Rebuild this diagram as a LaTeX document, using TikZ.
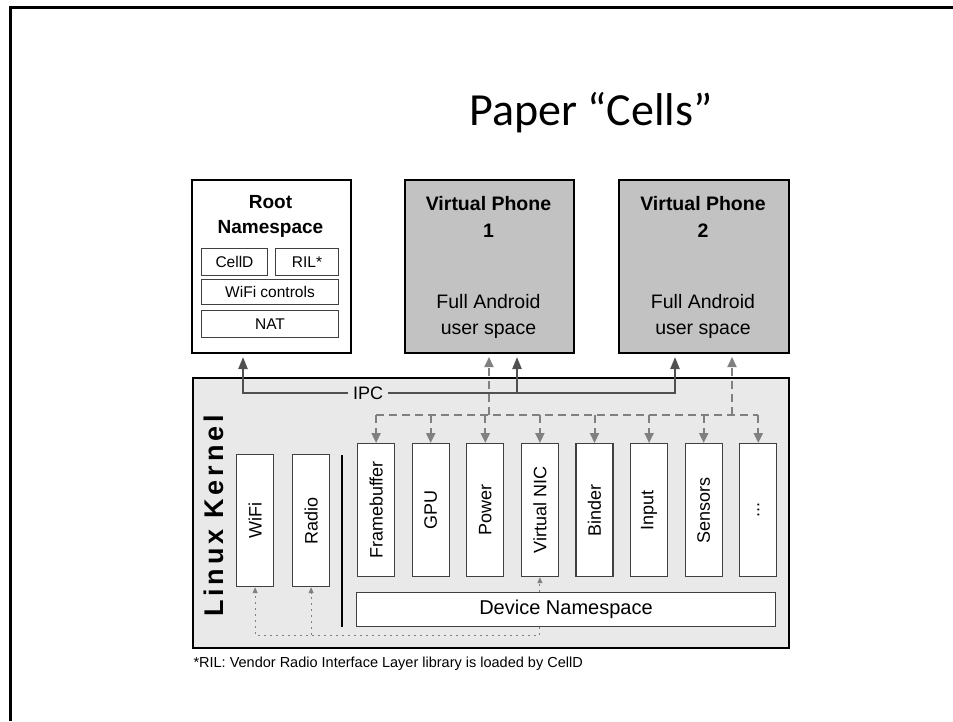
\documentclass[tikz,border=0pt]{standalone}
\usepackage{fontspec}
\setmainfont{Liberation Sans}
\newfontfamily\titlefont{Carlito}
\newfontfamily\kernelfont[LetterSpace=14]{Liberation Sans Bold}
\usetikzlibrary{arrows.meta}
\usetikzlibrary{calc}

\definecolor{phonegray}{HTML}{C2C2C2}
\definecolor{kernelgray}{HTML}{E9E9E9}
\definecolor{ipcgray}{HTML}{505050}
\definecolor{busgray}{HTML}{808080}

\tikzset{
  bigbox/.style={draw, line width=2pt, anchor=north west, inner sep=0pt},
  smallbox/.style={draw=black!75, line width=1pt, fill=white, anchor=north west, inner sep=0pt},
  boxtext/.style={font=\fontsize{15.5}{18}\selectfont},
  devbox/.style={draw=black!75, line width=1.2pt, fill=white, anchor=north west, inner sep=0pt, minimum width=37, minimum height=133},
  devtext/.style={rotate=90, font=\fontsize{18}{20}\selectfont},
  ipcline/.style={draw=ipcgray, line width=2.2pt},
  ipcarrow/.style={ipcline, -{Triangle[width=9pt,length=12pt]}, shorten >=3pt},
  busline/.style={draw=busgray, line width=2pt, dash pattern=on 8pt off 5pt},
  busarrow/.style={busline, -{Triangle[width=9pt,length=10pt]}},
  dotline/.style={draw=busgray, line width=0.9pt, dash pattern=on 2pt off 4pt},
  dotarrow/.style={dotline, -{Triangle[width=5pt,length=6pt]}}
}

\begin{document}
\begin{tikzpicture}[x=1pt, y=-1pt]
    \useasboundingbox (0,0) rectangle (953,721);
    \draw[line width=3pt] (953,7.5) -- (10,7.5) -- (10,721);

    \node[font=\titlefont\fontsize{46}{50}\selectfont, anchor=base] (title) at (591,125) {Paper “Cells”};

    % user space
    \node[bigbox, fill=white, minimum width=159, minimum height=173] (root) at (191,179) {};
    \node[bigbox, fill=phonegray, minimum width=169, minimum height=173] (vp1) at (404,179) {};
    \node[bigbox, fill=phonegray, minimum width=170, minimum height=173] (vp2) at (618,179) {};

    \node[align=center, font=\bfseries\fontsize{19}{25}\selectfont] (rootname) at (270.5,216) {Root\\Namespace};
    \node[align=center, font=\bfseries\fontsize{19.5}{27}\selectfont] (vp1name) at (488.5,217) {Virtual Phone\\1};
    \node[align=center, font=\bfseries\fontsize{19.5}{27}\selectfont] (vp2name) at (703,217) {Virtual Phone\\2};
    \node[align=center, font=\fontsize{19.5}{26}\selectfont] (vp1user) at (488.5,316) {Full Android\\user space};
    \node[align=center, font=\fontsize{19.5}{26}\selectfont] (vp2user) at (703,316) {Full Android\\user space};

    \node[smallbox, minimum width=66, minimum height=27] (cellid) at (201,248) {};
    \node[smallbox, minimum width=63, minimum height=27] (ril) at (275,248) {};
    \node[smallbox, minimum width=137, minimum height=25] (wifictl) at (201,279) {};
    \node[smallbox, minimum width=137, minimum height=27] (nat) at (201,310) {};
    \node[boxtext] (cellidtext) at (cellid.center) {CellD};
    \node[boxtext] (riltext) at (ril.center) {RIL*};
    \node[boxtext] (wifictltext) at (wifictl.center) {WiFi controls};
    \node[boxtext] (nattext) at (nat.center) {NAT};

    % kernel
    \node[bigbox, fill=kernelgray, minimum width=596, minimum height=270] (kernel) at (192,377) {};
    \node[rotate=90, font=\kernelfont\fontsize{27}{30}\selectfont] (kname) at (214,516) {Linux Kernel};

    \node[devbox, minimum height=132, label={[devtext]center:WiFi}] (wifi) at (236,454) {};
    \node[devbox, minimum height=132, label={[devtext]center:Radio}] (radio) at (292,454) {};
    \draw[line width=2pt] (342,455) -- (342,627);

    \node[devbox, label={[devtext]center:Framebuffer}] (fb) at (357,443) {};
    \node[devbox, label={[devtext]center:GPU}] (gpu) at (411.6,443) {};
    \node[devbox, label={[devtext]center:Power}] (power) at (466.2,443) {};
    \node[devbox, label={[devtext]center:Virtual NIC}] (vnic) at (520.8,443) {};
    \node[devbox, label={[devtext]center:Binder}] (binder) at (575.4,443) {};
    \node[devbox, label={[devtext]center:Input}] (input) at (630,443) {};
    \node[devbox, label={[devtext]center:Sensors}] (sensors) at (684.6,443) {};
    \node[devbox, label={[devtext]center:...}] (more) at (739.2,443) {};

    \node[smallbox, minimum width=419, minimum height=34] (devns) at (356,592) {};
    \node[font=\fontsize{20}{24}\selectfont] (devnstext) at (devns.center) {Device Namespace};

    % IPC
    \node[fill=kernelgray, inner sep=5pt, font=\fontsize{18}{20}\selectfont] (ipc) at (368,393) {IPC};
    \coordinate (ipcL) at (243,393);
    \coordinate (ipcM) at (517,393);
    \coordinate (ipcR) at (675,393);
    \draw[ipcarrow] (ipc.west) -- (ipcL) -- (ipcL |- root.south);
    \draw[ipcarrow] (ipc.east) -- (ipcR) -- (ipcR |- vp2.south);
    \draw[ipcarrow] (ipcM) -- (ipcM |- vp1.south);

    % device bus
    \coordinate (bus) at (0,415);
    \coordinate (bus1) at (489,415);
    \coordinate (bus2) at (732,415);
    \draw[busline] (fb.north |- bus) -- (more.north |- bus);
    \draw[busarrow, shorten >=3pt] (bus1) -- (bus1 |- vp1.south);
    \draw[busarrow, shorten >=3pt] (bus2) -- (bus2 |- vp2.south);
    \draw[busarrow] (fb.north |- bus) -- (fb.north);
    \draw[busarrow] (gpu.north |- bus) -- (gpu.north);
    \draw[busarrow] (power.north |- bus) -- (power.north);
    \draw[busarrow] (vnic.north |- bus) -- (vnic.north);
    \draw[busarrow] (binder.north |- bus) -- (binder.north);
    \draw[busarrow] (input.north |- bus) -- (input.north);
    \draw[busarrow] (sensors.north |- bus) -- (sensors.north);
    \draw[busarrow] (more.north |- bus) -- (more.north);

    % network path
    \coordinate (dotB) at (0,635);
    \draw[dotarrow] (vnic.south |- devns.north) -- (vnic.south);
    \draw[dotarrow] (vnic.south |- devns.south) -- (vnic.south |- dotB) -| (wifi.south);
    \draw[dotarrow] (radio.south |- dotB) -- (radio.south);

    \node[anchor=west, font=\fontsize{14.5}{17}\selectfont] (note) at (190,664) {*RIL: Vendor Radio Interface Layer library is loaded by CellD};
\end{tikzpicture}
\end{document}
